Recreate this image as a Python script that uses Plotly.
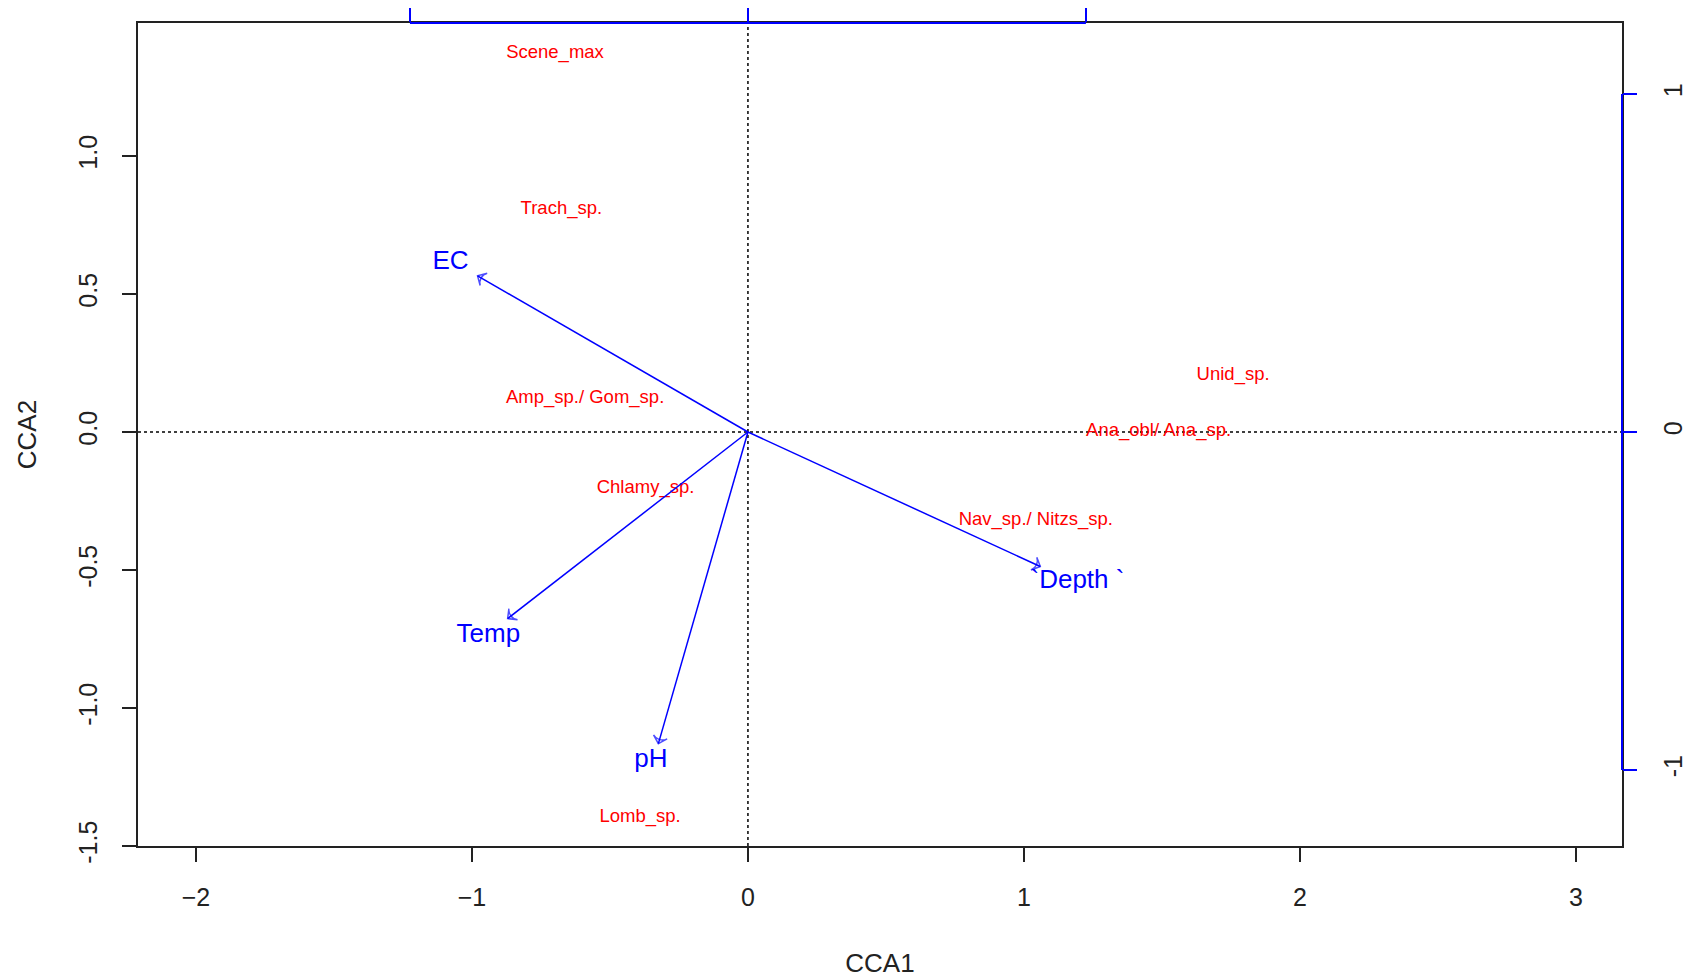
import plotly.graph_objects as go

# ---------------- data ----------------
species = ["Scene_max", "Trach_sp.", "Amp_sp./ Gom_sp.", "Chlamy_sp.", "Lomb_sp.",
           "Unid_sp.", "Ana_obl/ Ana_sp.", "Nav_sp./ Nitzs_sp."]
species_cca1 = [-0.699, -0.676, -0.590, -0.371, -0.391, 1.758, 1.488, 1.043]
species_cca2 = [1.371, 0.805, 0.121, -0.203, -1.395, 0.207, 0.004, -0.320]

env_vars = ["EC", "Temp", "pH", "`Depth `"]
env_cca1 = [-0.800, -0.711, -0.265, 0.865]      # biplot scores (top / right axes)
env_cca2 = [0.462, -0.552, -0.922, -0.398]
env_label_cca1 = [-0.880, -0.768, -0.287, 0.975]
env_label_cca2 = [0.501, -0.603, -0.973, -0.443]

x_ticks = [-2, -1, 0, 1, 2, 3]
y_ticks = [-1.5, -1.0, -0.5, 0.0, 0.5, 1.0]
y_ticktext = ["-1.5", "-1.0", "-0.5", "0.0", "0.5", "1.0"]
bi_ticks = [-1, 0, 1]
bi_ticktext = ["-1", "0", "1"]

# ---------------- layout constants ----------------
BI = 1.2246          # ratio of main-axis units to biplot-axis units
XR = [-2.21, 3.167]
YR = [-1.5, 1.482]
FONT = "Liberation Sans, Arial, sans-serif"
BLUE = "#0000FF"
RED = "#FF0000"

fig = go.Figure()

# species labels
fig.add_trace(go.Scatter(
    x=species_cca1, y=species_cca2, mode="text", text=species,
    textposition="middle center",
    textfont=dict(family=FONT, size=18.5, color=RED),
    hoverinfo="skip", showlegend=False, xaxis="x", yaxis="y"))

# arrows (biplot axes)
for i, name in enumerate(env_vars):
    fig.add_trace(go.Scatter(
        x=[0, env_cca1[i]], y=[0, env_cca2[i]], mode="lines+markers",
        line=dict(color=BLUE, width=1.5),
        marker=dict(symbol="arrow-wide-open", size=[0, 10], angleref="previous",
                    color=BLUE, line=dict(color=BLUE, width=1.5)),
        hoverinfo="skip", showlegend=False, xaxis="x2", yaxis="y2"))

fig.add_trace(go.Scatter(
    x=env_label_cca1, y=env_label_cca2, mode="text", text=env_vars,
    textposition="middle center",
    textfont=dict(family=FONT, size=26, color=BLUE),
    hoverinfo="skip", showlegend=False, xaxis="x2", yaxis="y2"))

shapes = [
    dict(type="line", xref="x", yref="paper", x0=0, x1=0, y0=0, y1=1,
         line=dict(color="black", width=1.5, dash="dot"), layer="below"),
    dict(type="line", xref="paper", yref="y", x0=0, x1=1, y0=0, y1=0,
         line=dict(color="black", width=1.5, dash="dot"), layer="below"),
    dict(type="line", xref="x2", yref="paper", x0=bi_ticks[0], x1=bi_ticks[-1], y0=1, y1=1,
         line=dict(color=BLUE, width=2), layer="above"),
    dict(type="line", xref="paper", yref="y2", x0=1, x1=1, y0=bi_ticks[0], y1=bi_ticks[-1],
         line=dict(color=BLUE, width=2), layer="above"),
]

axis_common = dict(showgrid=False, zeroline=False, ticks="outside", ticklen=14, tickwidth=1.5,
                   automargin=False)

fig.update_layout(
    width=1690, height=980,
    margin=dict(l=138, r=68, t=23, b=134),
    paper_bgcolor="white", plot_bgcolor="white",
    font=dict(family=FONT, color="#222222"),
    showlegend=False,
    shapes=shapes,
    xaxis=dict(range=XR, tickvals=x_ticks, tickcolor="#222222",
               showline=True, linecolor="#222222", linewidth=1.5, mirror=True,
               tickfont=dict(size=25, color="#222222"), ticklabelstandoff=14,
               title=dict(text="CCA1", font=dict(size=26, color="#222222"), standoff=44),
               **axis_common),
    yaxis=dict(range=YR, tickvals=y_ticks, ticktext=y_ticktext, tickangle=-90,
               tickcolor="#222222",
               showline=True, linecolor="#222222", linewidth=1.5, mirror=True,
               tickfont=dict(size=25, color="#222222"), ticklabelstandoff=15,
               title=dict(text="CCA2", font=dict(size=26, color="#222222"), standoff=30),
               **axis_common),
    xaxis2=dict(range=[XR[0] / BI, XR[1] / BI], overlaying="x", side="top", anchor="y",
                tickvals=bi_ticks, showticklabels=False, tickcolor=BLUE, showline=False,
                **axis_common),
    yaxis2=dict(range=[YR[0] / BI, YR[1] / BI], overlaying="y", side="right", anchor="x",
                tickvals=bi_ticks, ticktext=bi_ticktext, tickangle=-90, tickcolor=BLUE,
                showline=False, tickfont=dict(size=25, color="#222222"), ticklabelstandoff=15,
                **axis_common),
)

fig.write_html("out.html")
